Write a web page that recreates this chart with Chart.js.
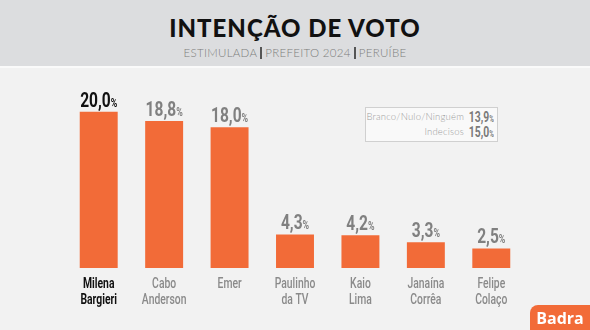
<!DOCTYPE html>
<html lang="pt">
<head>
<meta charset="UTF-8">
<title>Intenção de voto</title>
<script src="https://cdn.jsdelivr.net/npm/chart.js@4.4.0/dist/chart.umd.min.js"></script>
<style>
  body { margin: 0; width: 590px; height: 330px; overflow: hidden; background: #f2f2f2; position: relative; font-family: Lato, "Noto Sans", sans-serif; }
  #head { position: absolute; left: 0; top: 0; width: 590px; height: 66px; background: #dcdddf; border-bottom: 2px solid #fafafa; }
  #title { position: absolute; left: 0; width: 590px; top: 14px; text-align: center; font-weight: 900; font-size: 24px; line-height: 28px; color: #111; letter-spacing: 1px; }
  #sub { position: absolute; left: 0; width: 590px; top: 46px; text-align: center; font-size: 11.5px; font-weight: 300; color: #7d7d7d; letter-spacing: 0.3px; line-height: 14px; }
  #sub b { display: inline-block; width: 2px; height: 12px; background: #555; vertical-align: -2px; margin: 0 3px; }
  #wrap { position: absolute; left: 0; top: 0; width: 590px; height: 330px; }
  #box { position: absolute; left: 365px; top: 107px; width: 131px; height: 33px; background: #f9f9f9; border: 1px solid #d0d0d0; }
  #box .lab { position: absolute; right: 33px; font-size: 9.5px; font-weight: 300; color: #9c9c9c; white-space: nowrap; line-height: 14px; letter-spacing: 0.2px; }
  #box .val { position: absolute; right: 3px; font-family: Roboto, sans-serif; font-weight: bold; font-size: 14px; color: #7a7a7a; line-height: 14px; transform: scaleX(0.74); transform-origin: right center; white-space: nowrap; }
  #box small { font-size: 8.5px; }
  #logo { position: absolute; left: 530px; top: 305px; width: 60px; height: 25px; background: #f26b38; border-radius: 8px 0 0 0; color: #fff; font-weight: bold; font-size: 16px; text-align: center; line-height: 26px; font-family: "Open Sans", sans-serif; }
</style>
</head>
<body>
<div id="head"></div>
<div id="title">INTENÇÃO DE VOTO</div>
<div id="sub">ESTIMULADA<b></b>PREFEITO 2024<b></b>PERUÍBE</div>
<div id="wrap"><canvas id="chart"></canvas></div>
<div id="box">
  <div class="lab" style="top:2px">Branco/Nulo/Ninguém</div>
  <div class="val" style="top:2px">13,9<small>%</small></div>
  <div class="lab" style="top:17px">Indecisos</div>
  <div class="val" style="top:17px">15,0<small>%</small></div>
</div>
<div id="logo">Badra</div>
<script>
var candidates = [['Milena', 'Bargieri'], ['Cabo', 'Anderson'], ['Emer'], ['Paulinho', 'da TV'], ['Kaio', 'Lima'], ['Janaína', 'Corrêa'], ['Felipe', 'Colaço']];
var votes = [20.0, 18.8, 18.0, 4.3, 4.2, 3.3, 2.5];

var squeeze = 0.74;

// draws horizontally squeezed text so it looks like a condensed face
function narrowText(c, parts, cx, y) {
  var total = 0;
  parts.forEach(function (p) { c.font = p.font; p.w = c.measureText(p.text).width; total += p.w; });
  c.save();
  c.translate(cx, y);
  c.scale(squeeze, 1);
  var x = -total / 2;
  parts.forEach(function (p) { c.font = p.font; c.fillText(p.text, x, 0); x += p.w; });
  c.restore();
}

var labelsPlugin = {
  id: 'labelsPlugin',
  afterDatasetsDraw: function (chart) {
    var c = chart.ctx;
    var meta = chart.getDatasetMeta(0);
    var xs = chart.scales.x;
    c.save();
    c.textAlign = 'left';
    c.textBaseline = 'alphabetic';
    meta.data.forEach(function (bar, i) {
      var num = votes[i].toFixed(1).replace('.', ',');
      c.fillStyle = i === 0 ? '#111' : '#808080';
      narrowText(c, [{ text: num, font: 'bold 21px Roboto' }, { text: '%', font: 'bold 12px Roboto' }], bar.x, bar.y - 5);

      var cx = xs.getPixelForValue(i);
      c.fillStyle = i === 0 ? '#111' : '#8a8a8a';
      candidates[i].forEach(function (line, k) {
        narrowText(c, [{ text: line, font: (i === 0 ? 'bold ' : '500 ') + '14px Roboto' }], cx, xs.top + 20 + k * 16);
      });
    });
    c.restore();
  }
};

new Chart(document.getElementById('chart'), {
  type: 'bar',
  data: {
    labels: candidates,
    datasets: [{
      data: votes,
      backgroundColor: '#f26b38',
      barPercentage: 0.58,
      categoryPercentage: 1
    }]
  },
  options: {
    responsive: true,
    maintainAspectRatio: false,
    animation: false,
    layout: { padding: { left: 66, right: 66, top: 96, bottom: 0 } },
    plugins: { legend: { display: false }, tooltip: { enabled: false } },
    scales: {
      x: {
        grid: { display: false },
        border: { display: false },
        ticks: { display: false },
        afterFit: function (s) { s.height = 62; }
      },
      y: { display: false, min: 0, max: 22 }
    }
  },
  plugins: [labelsPlugin]
});
</script>
</body>
</html>
